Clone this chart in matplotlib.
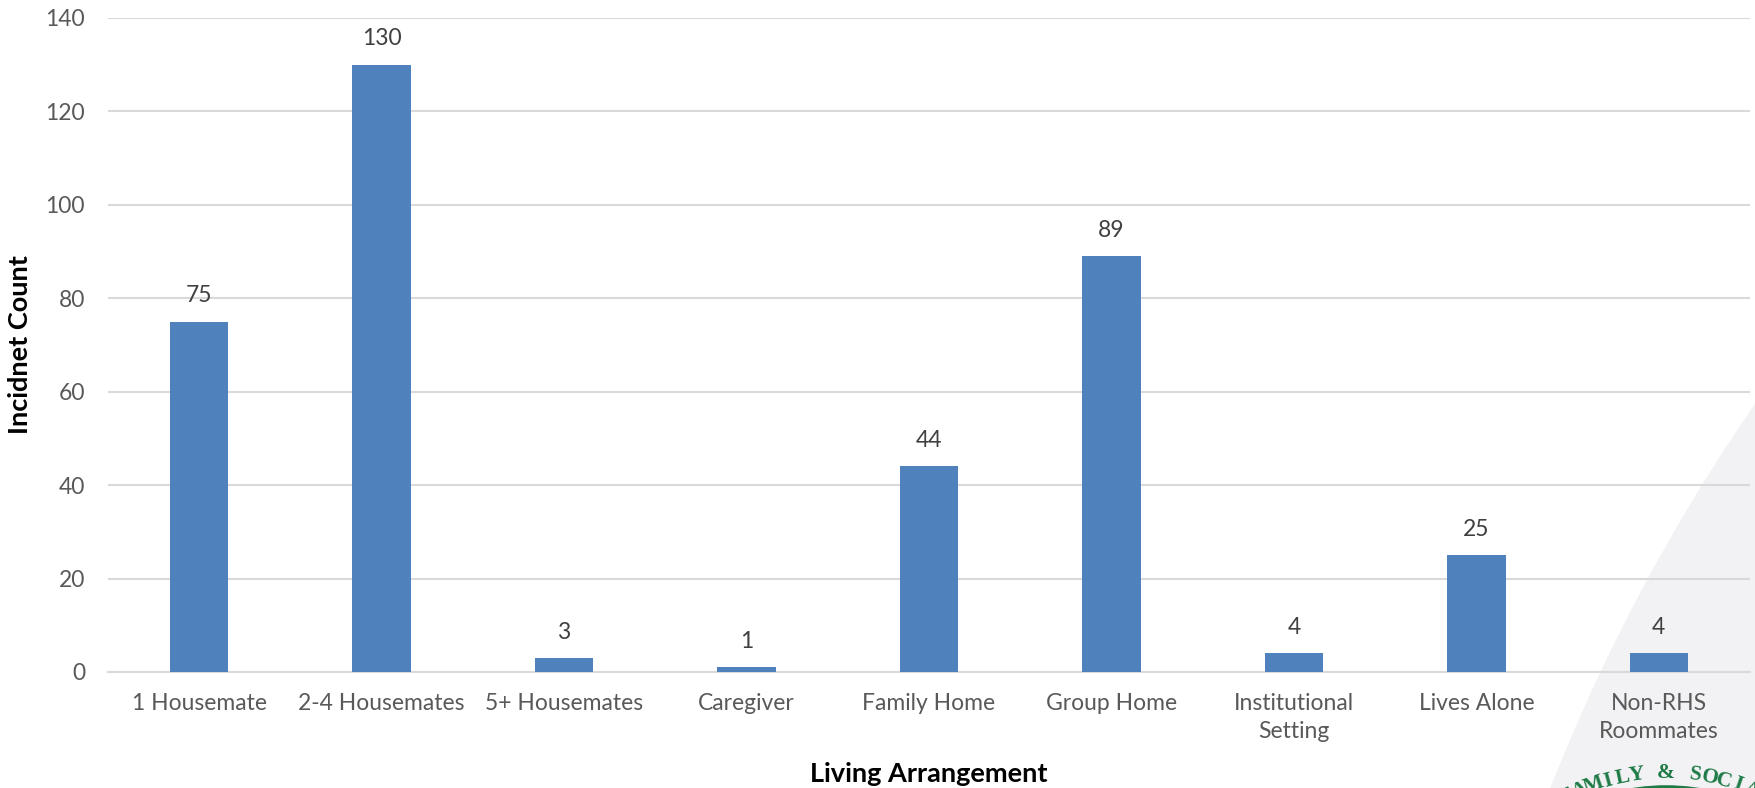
import matplotlib
matplotlib.use('Agg')
import matplotlib.pyplot as plt
from matplotlib.patches import Ellipse, Arc
import numpy as np

matplotlib.rc('font', family='Lato', size=16.5)

categories = ['1 Housemate', '2-4 Housemates', '5+ Housemates', 'Caregiver',
              'Family Home', 'Group Home', 'Institutional\nSetting',
              'Lives Alone', 'Non-RHS\nRoommates']
counts = [75, 130, 3, 1, 44, 89, 4, 25, 4]
yticks = [0, 20, 40, 60, 80, 100, 120, 140]

W, H = 1756, 788
fig = plt.figure(figsize=(W / 100, H / 100), dpi=100)

# light grey swoosh in the lower right corner (behind everything)
fig.patches.append(Ellipse((3321 / W, 1 - 1485 / H), 2 * 1903 / W, 2 * 1903 / H,
                           transform=fig.transFigure, facecolor='#f2f2f4',
                           edgecolor='none', zorder=-10))

# bit of a green seal peeking in at the bottom right
seal_c = (1666, 994)
fig.patches.append(Arc((seal_c[0] / W, 1 - seal_c[1] / H), 2 * 206 / W, 2 * 206 / H,
                       theta1=75, theta2=105, transform=fig.transFigure,
                       color='#1d7a45', lw=4, zorder=1))
seal_text = 'FAMILY & SOCIAL'
r = 221
for i, ch in enumerate(seal_text):
    th = np.deg2rad(90 + (7 - i) * 3.8)
    px = seal_c[0] + r * np.cos(th)
    py = seal_c[1] - r * np.sin(th)
    fig.text(px / W, 1 - py / H, ch, family='Liberation Serif', weight='bold',
             fontsize=15.5, color='#1d7a45', rotation=np.rad2deg(th) - 90,
             ha='center', va='center', rotation_mode='anchor', zorder=1)

ax = fig.add_axes([108 / W, 1 - 672 / H, (1750 - 108) / W, (672 - 18) / H])
ax.set_zorder(2)
ax.patch.set_alpha(0)

x = np.arange(len(categories))
ax.bar(x, counts, width=0.32, color='#4f81bd', zorder=3)
for xi, c in zip(x, counts):
    ax.annotate(str(c), (xi, c), xytext=(0, 11), textcoords='offset points',
                ha='center', va='bottom', color='#404040', fontsize=16.5)

ax.set_xlim(-0.5, len(categories) - 0.5)
ax.set_ylim(0, 140)
ax.set_yticks(yticks)
ax.set_xticks(x)
ax.set_xticklabels(categories, linespacing=1.45)
ax.tick_params(axis='both', length=0, colors='#595959', labelsize=16.5)
ax.tick_params(axis='y', pad=16.5)
ax.tick_params(axis='x', pad=15)

ax.yaxis.grid(True, color='#d9d9d9', lw=1.5, zorder=0)
for s in ['top', 'right', 'left']:
    ax.spines[s].set_visible(False)
ax.spines['bottom'].set_color('#d9d9d9')
ax.spines['bottom'].set_linewidth(1.5)

ax.set_ylabel('Incidnet Count', weight='bold', fontsize=19.5, color='black')
ax.set_xlabel('Living Arrangement', weight='bold', fontsize=19.5, color='black')
ax.yaxis.set_label_coords(-0.046, 0.5)
ax.xaxis.set_label_coords(0.5, -0.138)

plt.savefig('out.png', dpi=100)
